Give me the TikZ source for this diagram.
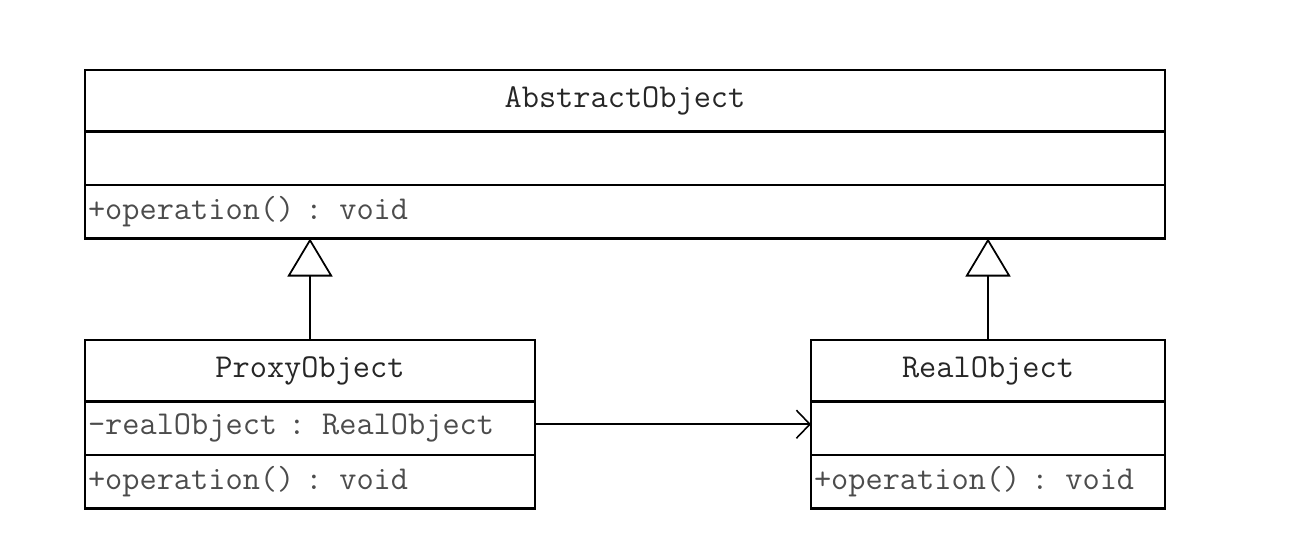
\documentclass[tikz,border=0pt]{standalone}
\usepackage{fontspec}
\usetikzlibrary{arrows.meta,calc,positioning}
\newcommand{\umlsize}{\ttfamily\fontsize{19}{23}\selectfont}

\begin{document}
\begin{tikzpicture}[
    classname/.style={draw, line width=1.4pt, outer sep=0pt, inner sep=0pt,
        minimum height=1.23cm, font=\umlsize, text=black!85},
    member/.style={draw, line width=1.4pt, outer sep=0pt, inner xsep=0.06cm, inner ysep=0pt,
        minimum height=1.07cm, align=left, font=\umlsize, text=black!70},
    inherit/.style={line width=1pt, -{Triangle[open, length=0.76cm, width=0.9cm, line width=1pt]}},
    assoc/.style={line width=0.9pt, -{Straight Barb[length=0.27cm, width=0.56cm, line width=0.9pt]}}
]
    \useasboundingbox (0,0) rectangle (26.1,10.82);

    % TOP: the abstract class
    \node[classname, minimum width=21.6cm] (absname) at (12.5, 8.805) {AbstractObject};
    \node[member, text width=21.48cm, below=0pt of absname] (absattr) {};
    \node[member, text width=21.48cm, below=0pt of absattr] (absops) {+operation() : void};

    % LEFT: the proxy
    \node[classname, minimum width=9cm] (proxyname) at (6.2, 3.405) {ProxyObject};
    \node[member, text width=8.88cm, below=0pt of proxyname] (proxyattr) {-realObject : RealObject};
    \node[member, text width=8.88cm, below=0pt of proxyattr] (proxyops) {+operation() : void};

    % RIGHT: the real subject
    \node[classname, minimum width=7.08cm] (realname) at (19.76, 3.405) {RealObject};
    \node[member, text width=6.96cm, below=0pt of realname] (realattr) {};
    \node[member, text width=6.96cm, below=0pt of realattr] (realops) {+operation() : void};

    % Generalisation
    \draw[inherit] (proxyname.north) -- (proxyname.north |- absops.south);
    \draw[inherit] (realname.north) -- (realname.north |- absops.south);

    % Association
    \draw[assoc] ($(proxyattr.east)+(0,0.08)$) -- ($(realattr.west)+(0,0.08)$);
\end{tikzpicture}
\end{document}
